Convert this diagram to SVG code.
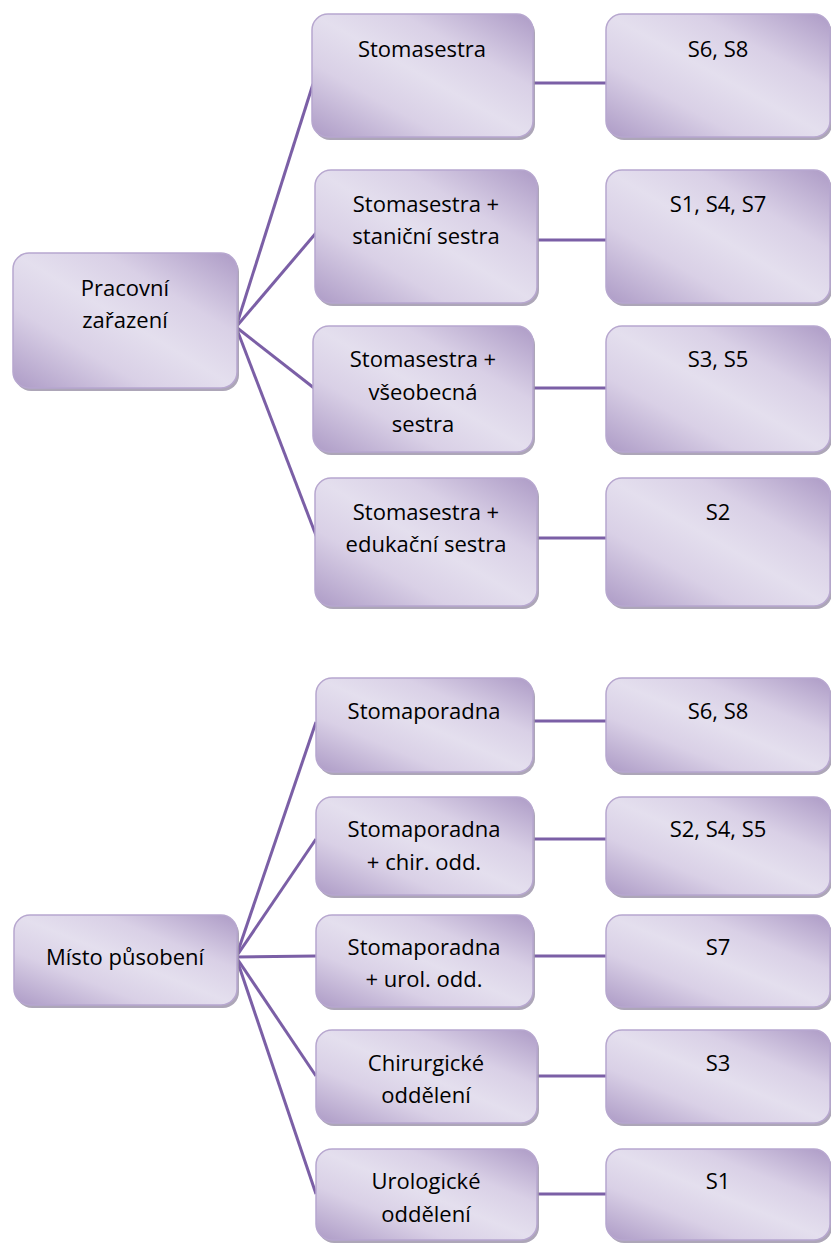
<svg xmlns="http://www.w3.org/2000/svg" width="831" height="1243" viewBox="0 0 831 1243">
<defs>
<linearGradient id="g" x1="1" y1="0" x2="0" y2="1">
<stop offset="0" stop-color="#ad9bc6"/>
<stop offset="0.3" stop-color="#d9d0e6"/>
<stop offset="0.5" stop-color="#e4dfee"/>
<stop offset="0.7" stop-color="#d9d0e6"/>
<stop offset="1" stop-color="#ad9bc6"/>
</linearGradient>
</defs>
<style>
.sh{fill:#9f97ab;opacity:0.85}
.bx{fill:url(#g);stroke:#b7a7cf;stroke-width:1.5}
.t{font-family:"Open Sans","Liberation Sans",sans-serif;font-size:22px;fill:#000;text-anchor:middle}
.c{stroke:#7b5fa6;stroke-width:3;fill:none;stroke-linecap:butt}
</style>
<g id="connectors">
<line class="c" x1="236" y1="327" x2="313" y2="84"/>
<line class="c" x1="236" y1="327" x2="316" y2="233"/>
<line class="c" x1="236" y1="327" x2="314" y2="388"/>
<line class="c" x1="236" y1="327" x2="317" y2="538"/>
<line class="c" x1="533" y1="83" x2="606" y2="83"/>
<line class="c" x1="537" y1="240" x2="606" y2="240"/>
<line class="c" x1="533" y1="388" x2="606" y2="388"/>
<line class="c" x1="537" y1="538" x2="606" y2="538"/>
<line class="c" x1="236" y1="957" x2="316" y2="722"/>
<line class="c" x1="236" y1="957" x2="316" y2="839"/>
<line class="c" x1="236" y1="957" x2="316" y2="956"/>
<line class="c" x1="236" y1="957" x2="316" y2="1076"/>
<line class="c" x1="236" y1="957" x2="316" y2="1194"/>
<line class="c" x1="533" y1="721" x2="606" y2="721"/>
<line class="c" x1="533" y1="839" x2="606" y2="839"/>
<line class="c" x1="533" y1="956" x2="606" y2="956"/>
<line class="c" x1="537" y1="1076" x2="606" y2="1076"/>
<line class="c" x1="537" y1="1194" x2="606" y2="1194"/>
</g>
<g id="A">
<rect class="sh" x="15" y="256" width="224" height="135" rx="16"/>
<rect class="bx" x="13" y="253" width="224" height="135" rx="16"/>
<text class="t" x="125" y="296">Pracovní</text>
<text class="t" x="125" y="328">zařazení</text>
</g>
<g id="B1">
<rect class="sh" x="314" y="17" width="221" height="123" rx="16"/>
<rect class="bx" x="312" y="14" width="221" height="123" rx="16"/>
<text class="t" x="422" y="57">Stomasestra</text>
</g>
<g id="B2">
<rect class="sh" x="317" y="173" width="222" height="133" rx="16"/>
<rect class="bx" x="315" y="170" width="222" height="133" rx="16"/>
<text class="t" x="426" y="212">Stomasestra +</text>
<text class="t" x="426" y="244">staniční sestra</text>
</g>
<g id="B3">
<rect class="sh" x="315" y="329" width="220" height="126" rx="16"/>
<rect class="bx" x="313" y="326" width="220" height="126" rx="16"/>
<text class="t" x="423" y="367">Stomasestra +</text>
<text class="t" x="423" y="400">všeobecná</text>
<text class="t" x="423" y="432">sestra</text>
</g>
<g id="B4">
<rect class="sh" x="317" y="481" width="222" height="128" rx="16"/>
<rect class="bx" x="315" y="478" width="222" height="128" rx="16"/>
<text class="t" x="426" y="520">Stomasestra +</text>
<text class="t" x="426" y="552">edukační sestra</text>
</g>
<g id="C1">
<rect class="sh" x="608" y="17" width="224" height="123" rx="16"/>
<rect class="bx" x="606" y="14" width="224" height="123" rx="16"/>
<text class="t" x="718" y="57">S6, S8</text>
</g>
<g id="C2">
<rect class="sh" x="608" y="173" width="224" height="133" rx="16"/>
<rect class="bx" x="606" y="170" width="224" height="133" rx="16"/>
<text class="t" x="718" y="212">S1, S4, S7</text>
</g>
<g id="C3">
<rect class="sh" x="608" y="329" width="224" height="126" rx="16"/>
<rect class="bx" x="606" y="326" width="224" height="126" rx="16"/>
<text class="t" x="718" y="367">S3, S5</text>
</g>
<g id="C4">
<rect class="sh" x="608" y="481" width="224" height="128" rx="16"/>
<rect class="bx" x="606" y="478" width="224" height="128" rx="16"/>
<text class="t" x="718" y="520">S2</text>
</g>
<g id="D">
<rect class="sh" x="16" y="918" width="223" height="90" rx="16"/>
<rect class="bx" x="14" y="915" width="223" height="90" rx="16"/>
<text class="t" x="125" y="965">Místo působení</text>
</g>
<g id="E1">
<rect class="sh" x="318" y="681" width="217" height="94" rx="16"/>
<rect class="bx" x="316" y="678" width="217" height="94" rx="16"/>
<text class="t" x="424" y="719">Stomaporadna</text>
</g>
<g id="E2">
<rect class="sh" x="318" y="800" width="217" height="98" rx="16"/>
<rect class="bx" x="316" y="797" width="217" height="98" rx="16"/>
<text class="t" x="424" y="837">Stomaporadna</text>
<text class="t" x="424" y="870">+ chir. odd.</text>
</g>
<g id="E3">
<rect class="sh" x="318" y="918" width="217" height="92" rx="16"/>
<rect class="bx" x="316" y="915" width="217" height="92" rx="16"/>
<text class="t" x="424" y="955">Stomaporadna</text>
<text class="t" x="424" y="987">+ urol. odd.</text>
</g>
<g id="E4">
<rect class="sh" x="318" y="1033" width="221" height="93" rx="16"/>
<rect class="bx" x="316" y="1030" width="221" height="93" rx="16"/>
<text class="t" x="426" y="1071">Chirurgické</text>
<text class="t" x="426" y="1103">oddělení</text>
</g>
<g id="E5">
<rect class="sh" x="318" y="1152" width="221" height="91" rx="16"/>
<rect class="bx" x="316" y="1149" width="221" height="91" rx="16"/>
<text class="t" x="426" y="1189">Urologické</text>
<text class="t" x="426" y="1222">oddělení</text>
</g>
<g id="F1">
<rect class="sh" x="608" y="681" width="224" height="94" rx="16"/>
<rect class="bx" x="606" y="678" width="224" height="94" rx="16"/>
<text class="t" x="718" y="719">S6, S8</text>
</g>
<g id="F2">
<rect class="sh" x="608" y="800" width="224" height="98" rx="16"/>
<rect class="bx" x="606" y="797" width="224" height="98" rx="16"/>
<text class="t" x="718" y="837">S2, S4, S5</text>
</g>
<g id="F3">
<rect class="sh" x="608" y="918" width="224" height="92" rx="16"/>
<rect class="bx" x="606" y="915" width="224" height="92" rx="16"/>
<text class="t" x="718" y="955">S7</text>
</g>
<g id="F4">
<rect class="sh" x="608" y="1033" width="224" height="93" rx="16"/>
<rect class="bx" x="606" y="1030" width="224" height="93" rx="16"/>
<text class="t" x="718" y="1071">S3</text>
</g>
<g id="F5">
<rect class="sh" x="608" y="1152" width="224" height="91" rx="16"/>
<rect class="bx" x="606" y="1149" width="224" height="91" rx="16"/>
<text class="t" x="718" y="1189">S1</text>
</g>
</svg>
